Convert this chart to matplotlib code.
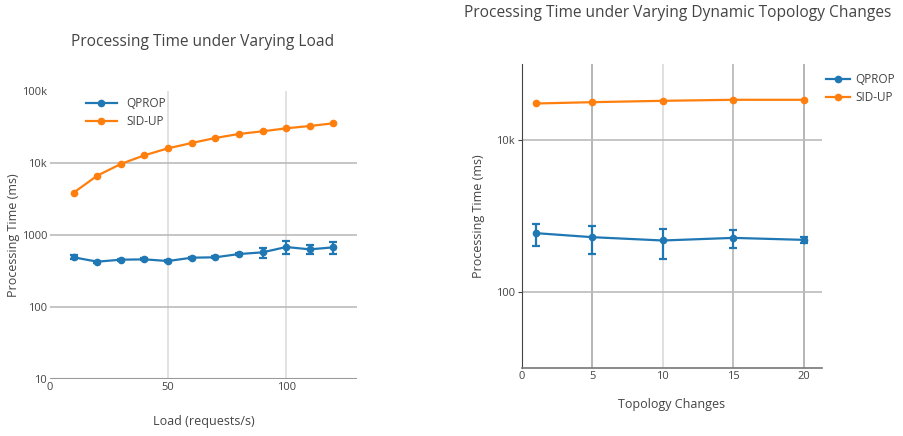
import matplotlib.pyplot as plt
from matplotlib.lines import Line2D
from matplotlib.ticker import FixedLocator, FixedFormatter, NullLocator

plt.rcParams['font.family'] = ['Open Sans', 'DejaVu Sans']

# left chart: varying load
load = [10, 20, 30, 40, 50, 60, 70, 80, 90, 100, 110, 120]
load_qprop = [490, 426, 454, 459, 435, 484, 490, 544, 574, 681, 632, 674]
load_qprop_err = [30, 12, 15, 15, 12, 15, 15, 20, 90, 135, 95, 125]
load_sidup = [3870, 6670, 9700, 12800, 16000, 18960, 22250, 25300, 27550, 30300, 32650, 35600]

# right chart: topology changes
topo = [1, 5, 10, 15, 20]
topo_qprop = [595, 527, 477, 516, 486]
topo_qprop_err = [185, 210, 207, 130, 40]
topo_sidup = [29700, 30900, 32200, 33200, 33200]

blue = '#1f77b4'
orange = '#ff7f0e'
txt = '#444444'

fig = plt.figure(figsize=(9.04, 4.36), dpi=100)

handles = [Line2D([], [], color=blue, marker='o', markersize=4.5, lw=1.6, label='QPROP'),
           Line2D([], [], color=orange, marker='o', markersize=4.5, lw=1.6, label='SID-UP')]

def draw(ax, x, q, qerr, s):
    ax.errorbar(x, q, yerr=qerr, color=blue, marker='o', markersize=4.5, lw=1.6,
                capsize=3, capthick=1.6, elinewidth=1.6, zorder=3)
    ax.plot(x, s, color=orange, marker='o', markersize=4.5, lw=1.6, zorder=3)
    ax.set_yscale('log')
    ax.yaxis.set_minor_locator(NullLocator())
    for sp in ax.spines.values():
        sp.set_visible(False)
    ax.tick_params(colors=txt, labelsize=8, length=0, pad=2)

# ---- left
ax1 = fig.add_axes([50 / 904, 1 - 379 / 436, 307 / 904, 288 / 436])
draw(ax1, load, load_qprop, load_qprop_err, load_sidup)
ax1.set_xlim(0, 130)
ax1.set_ylim(10, 100000)
ax1.xaxis.set_major_locator(FixedLocator([0, 50, 100]))
ax1.yaxis.set_major_locator(FixedLocator([10, 100, 1000, 10000, 100000]))
ax1.yaxis.set_major_formatter(FixedFormatter(['10', '100', '1000', '10k', '100k']))
for v in [50, 100]:
    ax1.axvline(v, color='#dddddd', lw=1.2, zorder=1)
for v in [100, 1000, 10000]:
    ax1.axhline(v, color='#bbbbbb', lw=1.2, zorder=1)
ax1.axhline(10, color='#999999', lw=1.5, zorder=2)
ax1.set_xlabel('Load (requests/s)', color=txt, fontsize=9, labelpad=16)
ax1.set_ylabel('Processing Time (ms)', color=txt, fontsize=9, labelpad=1)
ax1.legend(handles=handles, loc='upper left', bbox_to_anchor=(0.09, 1.008), frameon=False,
           fontsize=8.5, labelcolor=txt, handlelength=2.6, borderpad=0.2, labelspacing=0.45)
fig.text(203 / 904, 1 - 42 / 436, 'Processing Time under Varying Load', ha='center',
         va='center', color=txt, fontsize=11.2)

# ---- right
ax2 = fig.add_axes([522 / 904, 1 - 368 / 436, 300 / 904, 304 / 436])
draw(ax2, topo, topo_qprop, topo_qprop_err, topo_sidup)
ax2.set_xlim(0, 21.3)
ax2.set_ylim(10.2, 97700)
ax2.xaxis.set_major_locator(FixedLocator([0, 5, 10, 15, 20]))
ax2.yaxis.set_major_locator(FixedLocator([100, 10000]))
ax2.yaxis.set_major_formatter(FixedFormatter(['100', '10k']))
for v, c in zip([5, 10, 15, 20], ['#b0b0b0', '#dddddd', '#bbbbbb', '#b0b0b0']):
    ax2.axvline(v, color=c, lw=1.3, zorder=1)
for v in [100, 10000]:
    ax2.axhline(v, color='#bbbbbb', lw=1.2, zorder=1)
ax2.spines['left'].set_visible(True)
ax2.spines['left'].set_color('#444444')
ax2.spines['bottom'].set_visible(True)
ax2.spines['bottom'].set_color('#777777')
ax2.spines['bottom'].set_linewidth(1.2)
ax2.tick_params(axis='y', length=3, color='#444444')
ax2.set_xlabel('Topology Changes', color=txt, fontsize=9, labelpad=12)
ax2.set_ylabel('Processing Time (ms)', color=txt, fontsize=9, labelpad=8)
fig.legend(handles=handles, loc='upper left', bbox_to_anchor=(826 / 904, 1 - 73 / 436),
           frameon=False, fontsize=8.5, labelcolor=txt, handlelength=2.0, handletextpad=0.5,
           borderpad=0, borderaxespad=0, labelspacing=0.45)
fig.text(678 / 904, 1 - 13 / 436, 'Processing Time under Varying Dynamic Topology Changes',
         ha='center', va='center', color=txt, fontsize=11.2)

fig.savefig('out.png', dpi=100)
